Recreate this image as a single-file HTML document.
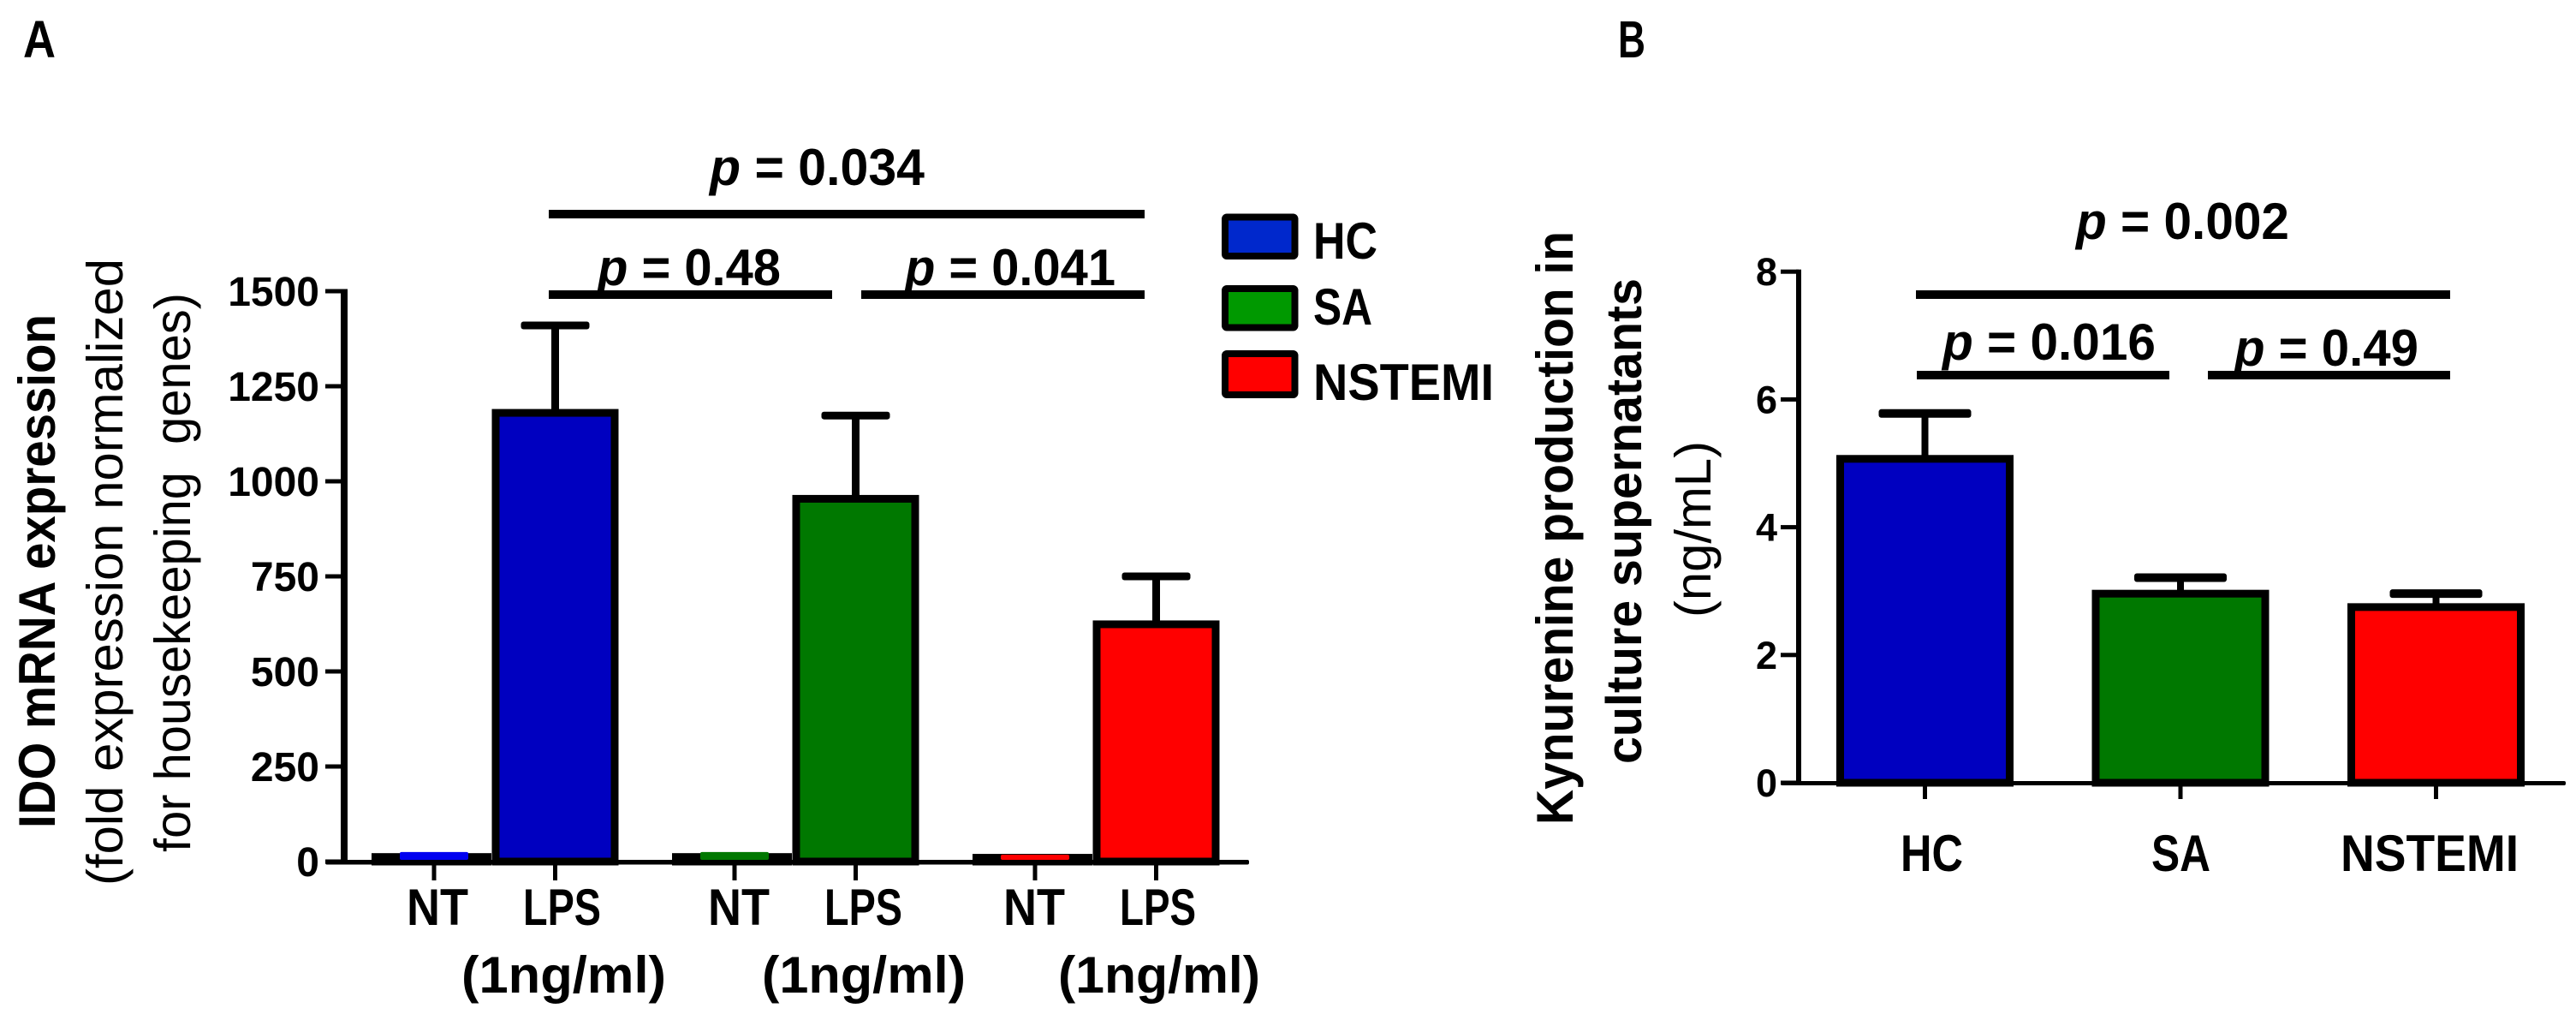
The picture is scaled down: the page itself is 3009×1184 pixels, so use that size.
<!DOCTYPE html>
<html lang="en">
<head>
<meta charset="utf-8">
<title>IDO mRNA expression and kynurenine production</title>
<style>
html,body{margin:0;padding:0;background:#fff;}
svg{display:block;}
text{font-family:"Liberation Sans",sans-serif;fill:#000;}
.b{font-weight:700;}
.r{font-weight:400;}
</style>
</head>
<body>
<svg id="chart" xmlns="http://www.w3.org/2000/svg" width="3009" height="1184" viewBox="0 0 3009 1184">
<rect x="0" y="0" width="3009" height="1184" fill="#fff"/>

<g id="panelA"></g>
<g id="panelB"></g>

<text class="b" font-size="61" x="27" y="67" textLength="38" lengthAdjust="spacingAndGlyphs">A</text>
<text class="b" font-size="61" x="1890" y="67" textLength="32" lengthAdjust="spacingAndGlyphs">B</text>

<g>
<text class="b" font-size="60" transform="rotate(-90 64 967)" x="64" y="967" textLength="600" lengthAdjust="spacingAndGlyphs">IDO mRNA expression</text>
<text class="r" font-size="59" transform="rotate(-90 143 1034)" x="143" y="1034" textLength="732" lengthAdjust="spacingAndGlyphs">(fold expression normalized</text>
<text class="r" font-size="59" transform="rotate(-90 222 995)" x="222" y="995" textLength="653" lengthAdjust="spacingAndGlyphs" xml:space="preserve">for housekeeping  genes)</text>
</g>

<g>
<text class="b" font-size="60" x="475" y="1080" textLength="72" lengthAdjust="spacingAndGlyphs">NT</text>
<text class="b" font-size="60" x="611" y="1080" textLength="91" lengthAdjust="spacingAndGlyphs">LPS</text>
<text class="b" font-size="60" x="827" y="1080" textLength="72" lengthAdjust="spacingAndGlyphs">NT</text>
<text class="b" font-size="60" x="963" y="1080" textLength="91" lengthAdjust="spacingAndGlyphs">LPS</text>
<text class="b" font-size="60" x="1172" y="1080" textLength="72" lengthAdjust="spacingAndGlyphs">NT</text>
<text class="b" font-size="60" x="1308" y="1080" textLength="89" lengthAdjust="spacingAndGlyphs">LPS</text>
<text class="b" font-size="60" x="539" y="1159" textLength="239" lengthAdjust="spacingAndGlyphs">(1ng/ml)</text>
<text class="b" font-size="60" x="890" y="1159" textLength="238" lengthAdjust="spacingAndGlyphs">(1ng/ml)</text>
<text class="b" font-size="60" x="1236" y="1159" textLength="236" lengthAdjust="spacingAndGlyphs">(1ng/ml)</text>
</g>

<g>
<text class="b" font-size="60" x="829" y="216" textLength="251" lengthAdjust="spacingAndGlyphs"><tspan font-style="italic">p</tspan> = 0.034</text>
<rect x="641" y="245" width="696" height="10" fill="#000"/>
<text class="b" font-size="60" x="698" y="333" textLength="214" lengthAdjust="spacingAndGlyphs"><tspan font-style="italic">p</tspan> = 0.48</text>
<rect x="641" y="339" width="331" height="10" fill="#000"/>
<text class="b" font-size="60" x="1057" y="333" textLength="246" lengthAdjust="spacingAndGlyphs"><tspan font-style="italic">p</tspan> = 0.041</text>
<rect x="1006" y="339" width="331" height="10" fill="#000"/>
</g>

<g>
<g>
<rect x="1431" y="253.5" width="81.5" height="45.5" rx="2" fill="#0028cc" stroke="#000" stroke-width="8"/>
<text class="b" font-size="60" x="1534" y="302" textLength="75" lengthAdjust="spacingAndGlyphs">HC</text>
</g>
<g>
<rect x="1431" y="337" width="81.5" height="45.5" rx="2" fill="#009900" stroke="#000" stroke-width="8"/>
<text class="b" font-size="60" x="1534" y="379" textLength="69" lengthAdjust="spacingAndGlyphs">SA</text>
</g>
<g>
<rect x="1431" y="413" width="81.5" height="48" rx="2" fill="#ff0000" stroke="#000" stroke-width="8"/>
<text class="b" font-size="60" x="1534" y="467" textLength="211" lengthAdjust="spacingAndGlyphs">NSTEMI</text>
</g>
</g>

<g>
<text class="b" font-size="60" transform="rotate(-90 1837 963)" x="1837" y="963" textLength="693" lengthAdjust="spacingAndGlyphs">Kynurenine production in</text>
<text class="b" font-size="58" transform="rotate(-90 1917 892)" x="1917" y="892" textLength="567" lengthAdjust="spacingAndGlyphs">culture supernatants</text>
<text class="r" font-size="59" transform="rotate(-90 1998 721)" x="1998" y="721" textLength="206" lengthAdjust="spacingAndGlyphs">(ng/mL)</text>
</g>

<g>
<text class="b" font-size="60" x="2220" y="1017" textLength="73" lengthAdjust="spacingAndGlyphs">HC</text>
<text class="b" font-size="60" x="2513" y="1017" textLength="69" lengthAdjust="spacingAndGlyphs">SA</text>
<text class="b" font-size="60" x="2734" y="1017" textLength="208" lengthAdjust="spacingAndGlyphs">NSTEMI</text>
</g>

<g>
<text class="b" font-size="60" x="2425" y="279" textLength="249" lengthAdjust="spacingAndGlyphs"><tspan font-style="italic">p</tspan> = 0.002</text>
<rect x="2238" y="339" width="624" height="10" fill="#000"/>
<text class="b" font-size="60" x="2269" y="420" textLength="249" lengthAdjust="spacingAndGlyphs"><tspan font-style="italic">p</tspan> = 0.016</text>
<rect x="2239" y="433" width="295" height="10" fill="#000"/>
<text class="b" font-size="60" x="2610" y="427" textLength="215" lengthAdjust="spacingAndGlyphs"><tspan font-style="italic">p</tspan> = 0.49</text>
<rect x="2579" y="433" width="283" height="10" fill="#000"/>
</g>
</svg>

<script>
const categoriesA = ['HC', 'SA', 'NSTEMI'];
const ntMeansA = [12, 12, 10];
const ntErrorTopsA = [25, 25, 18];
const lpsMeansA = [1180, 954, 624];
const lpsErrorTopsA = [1410, 1173, 750];
const yTicksA = [0, 250, 500, 750, 1000, 1250, 1500];

const categoriesB = ['HC', 'SA', 'NSTEMI'];
const meansB = [5.07, 2.96, 2.75];
const errorTopsB = [5.78, 3.21, 2.96];
const yTicksB = [0, 2, 4, 6, 8];

const seriesFillA = ['#0000c0', '#007800', '#ff0000'];
const seriesFillNtA = ['#0000f0', '#007800', '#ff0000'];
const seriesFillB = ['#0000c0', '#007800', '#ff0000'];

const NS = 'http://www.w3.org/2000/svg';
const panelA = document.getElementById('panelA');
const panelB = document.getElementById('panelB');

function yA(v) { return 1006 - v * 0.444; }
function xLpsA(g) { return 648.5 + 351 * g; }
function xNtA(g) { return 507 + 351 * g; }
function yB(v) { return 914 - v * 74.6; }
function xB(g) { return 2248.5 + 298.5 * g; }

function shape(tag, parent, props) {
  const el = document.createElementNS(NS, tag);
  for (const k in props) el.setAttribute(k, props[k]);
  parent.appendChild(el);
  return el;
}

function barRect(parent, cx, outerW, top, base, fill, sw) {
  return shape('rect', parent, {
    x: cx - outerW / 2 + sw / 2, y: top, width: outerW - sw,
    height: Math.max(base - top, 0.5), fill: fill, stroke: '#000', 'stroke-width': sw
  });
}

/* ---------- Panel A ---------- */
yTicksA.forEach(function (t) {
  const tick = shape('rect', panelA, { x: 380, y: yA(t) - 2.5, width: 22, height: 5, fill: '#000' });
  
  
  const label = shape('text', panelA, {
    x: 373, y: yA(t) + 17, 'text-anchor': 'end', 'font-size': 48, 'font-weight': 700
  });
  label.textContent = String(t);
  
  
});

categoriesA.forEach(function (c, g) {
  const ntBar = barRect(panelA, xNtA(g) - 3, 140, yA(ntMeansA[g]), yA(0), '#000', 9);
  
  

  const ntErr = shape('rect', panelA, {
    x: xNtA(g) - 40, y: yA(ntErrorTopsA[g]), width: 80,
    height: yA(0) - 2 - yA(ntErrorTopsA[g]), rx: 2, fill: seriesFillNtA[g]
  });
  
  

  const stem = shape('rect', panelA, {
    x: xLpsA(g) - 4.5, y: yA(lpsErrorTopsA[g]), width: 9,
    height: yA(lpsMeansA[g]) - yA(lpsErrorTopsA[g]), fill: '#000'
  });
  
  

  const cap = shape('rect', panelA, {
    x: xLpsA(g) - 40, y: yA(lpsErrorTopsA[g]) - 4.5, width: 80, height: 9, rx: 3, fill: '#000'
  });
  
  

  const bar = barRect(panelA, xLpsA(g), 148, yA(lpsMeansA[g]), yA(0), seriesFillA[g], 9);
  
  

  const tickNt = shape('rect', panelA, { x: xNtA(g) - 2.5, y: yA(0), width: 5, height: 22, fill: '#000' });
  
  

  const tickLps = shape('rect', panelA, { x: xLpsA(g) - 2.5, y: yA(0), width: 5, height: 22, fill: '#000' });
  
  
});

const axisYA = shape('rect', panelA, {
  x: 398, y: yA(yTicksA[yTicksA.length - 1]) - 2.5, width: 8,
  height: yA(0) - yA(yTicksA[yTicksA.length - 1]) + 5, fill: '#000'
});



const axisXA = shape('rect', panelA, { x: 380, y: yA(0) - 2, width: 1079, height: 5.5, rx: 2, fill: '#000' });



/* ---------- Panel B ---------- */
yTicksB.forEach(function (t) {
  const tick = shape('rect', panelB, { x: 2080, y: yB(t) - 2.5, width: 21, height: 5, fill: '#000' });
  
  
  const label = shape('text', panelB, {
    x: 2076, y: yB(t) + 16, 'text-anchor': 'end', 'font-size': 45, 'font-weight': 700
  });
  label.textContent = String(t);
  
  
});

categoriesB.forEach(function (c, g) {
  const stem = shape('rect', panelB, {
    x: xB(g) - 4, y: yB(errorTopsB[g]), width: 8,
    height: yB(meansB[g]) - yB(errorTopsB[g]), fill: '#000'
  });
  
  

  const cap = shape('rect', panelB, {
    x: xB(g) - 54, y: yB(errorTopsB[g]) - 5, width: 108, height: 10, rx: 3, fill: '#000'
  });
  
  

  const bar = barRect(panelB, xB(g), 207, yB(meansB[g]), yB(0), seriesFillB[g], 9);
  
  

  const tick = shape('rect', panelB, { x: xB(g) - 2.5, y: yB(0), width: 5, height: 19, fill: '#000' });
  
  
});

const axisYB = shape('rect', panelB, {
  x: 2098, y: yB(yTicksB[yTicksB.length - 1]) - 2.5, width: 6,
  height: yB(0) - yB(yTicksB[yTicksB.length - 1]) + 5, fill: '#000'
});



const axisXB = shape('rect', panelB, { x: 2080, y: yB(0) - 2, width: 917, height: 5, rx: 2, fill: '#000' });


</script>
</body>
</html>
